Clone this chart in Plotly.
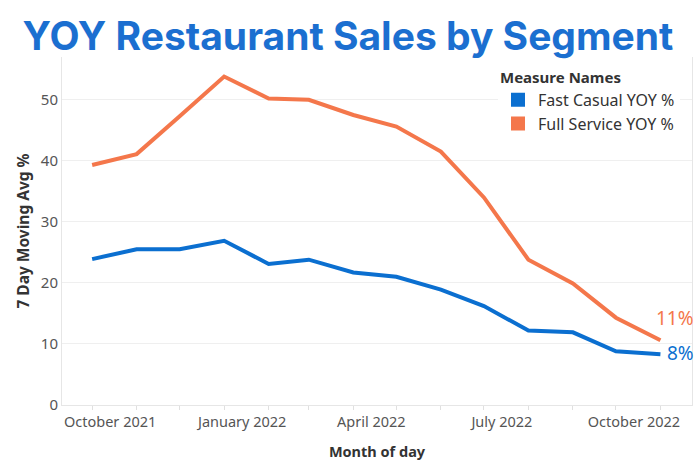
import plotly.graph_objects as go

months = ["2021-10-01", "2021-11-01", "2021-12-01", "2022-01-01", "2022-02-01", "2022-03-01",
          "2022-04-01", "2022-05-01", "2022-06-01", "2022-07-01", "2022-08-01", "2022-09-01",
          "2022-10-01", "2022-11-01"]
fast_casual = [23.9, 25.5, 25.5, 26.9, 23.1, 23.8, 21.7, 21.0, 18.9, 16.2, 12.2, 11.9, 8.8, 8.3]
full_service = [39.3, 41.1, 47.3, 53.8, 50.2, 50.0, 47.5, 45.6, 41.5, 34.0, 23.8, 19.9, 14.3, 10.6]
series_names = ["Fast Casual YOY %", "Full Service YOY %"]
end_labels = ["8%", "11%"]
tick_labels_dates = ["2021-10-01", "2022-01-01", "2022-04-01", "2022-07-01", "2022-10-01"]
y_ticks = [0, 10, 20, 30, 40, 50]

BLUE = "#0b6fd0"
ORANGE = "#f4774b"
FONT = "Noto Sans"

fig = go.Figure()
for name, vals, col in [(series_names[0], fast_casual, BLUE), (series_names[1], full_service, ORANGE)]:
    fig.add_trace(go.Scatter(x=months, y=vals, mode="lines", name=name,
                             line=dict(color=col, width=4), showlegend=False))
    fig.add_trace(go.Scatter(x=[None], y=[None], mode="markers", name=name,
                             marker=dict(symbol="square", size=14, color=col), showlegend=True))

# end labels
fig.add_annotation(x=months[-1], y=fast_casual[-1], text=end_labels[0], showarrow=False,
                   xanchor="left", yanchor="middle", xshift=5, yshift=1,
                   font=dict(family=FONT, size=19, color=BLUE))
fig.add_annotation(x=months[-1], y=full_service[-1], text=end_labels[1], showarrow=False,
                   xanchor="center", yanchor="middle", xshift=15, yshift=22,
                   font=dict(family=FONT, size=19, color=ORANGE))

fig.update_layout(
    width=696, height=466,
    margin=dict(l=62, r=4, t=57, b=61),
    paper_bgcolor="white", plot_bgcolor="white",
    title=dict(text="<b>YOY Restaurant Sales by Segment</b>", x=0.5, xanchor="center",
               y=1 - 36 / 466, yanchor="middle",
               font=dict(family="Inter", size=39, color="#1b6fd0", weight=900)),
    legend=dict(title=dict(text="<b>Measure Names</b>", font=dict(family=FONT, size=15, color="#333")),
                x=(498 - 62) / 630, xanchor="left", y=0.982, yanchor="top",
                bgcolor="white", font=dict(family=FONT, size=16, color="#333"),
                itemwidth=30, tracegroupgap=0),
    xaxis=dict(type="date", range=["2021-09-10", "2022-11-23"],
               tickvals=tick_labels_dates, tickformat="%B %Y",
               ticklabelshift=18, ticks="outside", ticklen=4, tickcolor="#e0e0e0",
               minor=dict(dtick="M1", tick0="2021-10-01", ticks="outside", ticklen=4, tickcolor="#e0e0e0"),
               showgrid=False, showline=True, linecolor="#e6e6e6", linewidth=1,
               tickfont=dict(family=FONT, size=14.5, color="#555"),
               title=dict(text="<b>Month of day</b>", standoff=16,
                          font=dict(family=FONT, size=14.5, color="#333"))),
    yaxis=dict(range=[0, 57], tickvals=y_ticks, showgrid=True, gridcolor="#efefef",
               zeroline=False, showline=True, mirror=True, linecolor="#e6e6e6",
               ticks="", tickfont=dict(family=FONT, size=15, color="#555"),
               title=dict(text="<b>7 Day Moving Avg %</b>", standoff=7,
                          font=dict(family=FONT, size=15.5, color="#333"))),
)

fig.write_html("out.html")
